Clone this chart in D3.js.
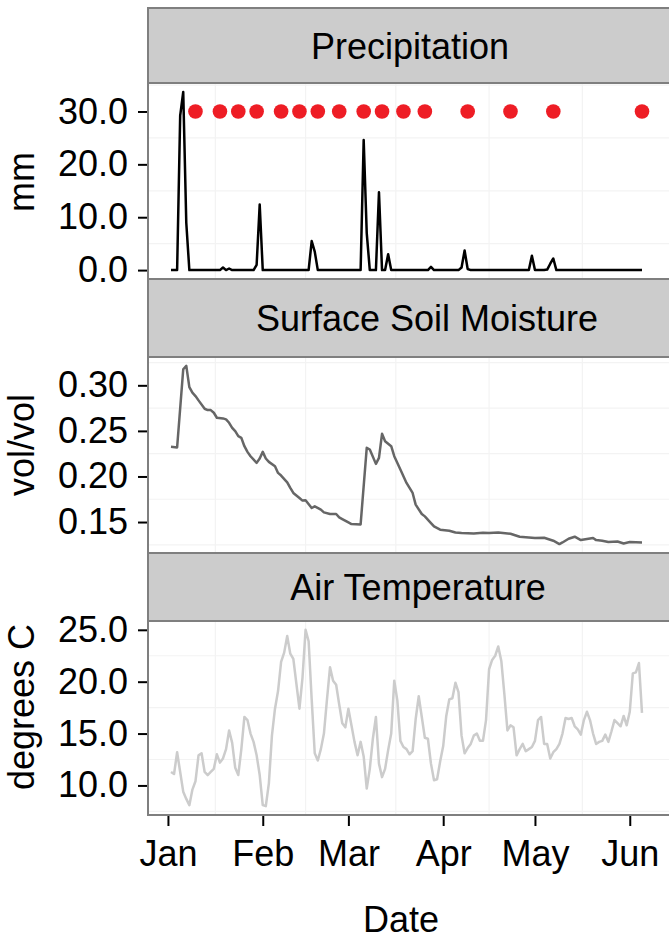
<!DOCTYPE html>
<html lang="en">
<head>
<meta charset="UTF-8">
<script src="https://cdn.jsdelivr.net/npm/d3@7"></script>
<title>Precipitation, soil moisture and air temperature</title>
<style>
    body { margin: 0; background: #fff; }
    svg text { font-family: "Liberation Sans", Arial, sans-serif; fill: #000; }
    .axis path.domain { display: none; }
    .axis .tick line { stroke: #000; stroke-width: 2; }
    .axis .tick text { font-size: 36px; }
</style>
</head>
<body>
<svg id="chart" width="669" height="940"></svg>
<script>
    // daily series start on 2 Jan 2015
    var startDate = new Date(2015, 0, 2);
    var yearStart = new Date(2015, 0, 1);

    // mm per day
    var precip = [
        0, 0, 0, 29.2, 33.7, 8.9, 0, 0, 0, 0,
        0, 0, 0, 0, 0, 0, 0, 0.5, 0, 0.3,
        0, 0, 0, 0, 0, 0, 0, 0, 1.0, 12.4,
        0, 0, 0, 0, 0, 0, 0, 0, 0, 0,
        0, 0, 0, 0, 0, 0, 5.5, 3.5, 0, 0,
        0, 0, 0, 0, 0, 0, 0, 0, 0, 0,
        0, 0, 0, 24.6, 7.0, 0, 0, 0, 14.7, 0,
        0, 3.0, 0, 0, 0, 0, 0, 0, 0, 0,
        0, 0, 0, 0, 0, 0.6, 0, 0, 0, 0,
        0, 0, 0, 0, 0, 0.5, 3.7, 0.2, 0, 0,
        0, 0, 0, 0, 0, 0, 0, 0, 0, 0,
        0, 0, 0, 0, 0, 0, 0, 0, 2.7, 0,
        0, 0, 0, 0.1, 1.2, 2.2, 0, 0, 0, 0,
        0, 0, 0, 0, 0, 0, 0, 0, 0, 0,
        0, 0, 0, 0, 0, 0, 0, 0, 0, 0,
        0, 0, 0, 0, 0
    ];

    // sampling days (days after 1 Jan) shown as red dots at 30 mm
    var sampleDays = [9, 17, 23, 29, 37, 43, 49, 56, 64, 70, 77, 84, 98, 112, 126, 155];
    var sampleLevel = 30;

    // surface soil moisture, vol/vol
    var soilDays = [1, 3, 5, 6, 7, 8, 9, 10, 12, 13, 14, 15, 16, 18, 19, 20, 21, 22, 23, 24,
        25, 26, 27, 29, 30, 31, 32, 33, 35, 36, 37, 39, 40, 41, 43, 44, 45, 47, 48, 50,
        51, 53, 55, 56, 57, 59, 60, 63, 65, 66, 68, 69, 70, 71, 73, 74, 76, 77, 78, 80,
        81, 83, 84, 86, 87, 89, 92, 94, 96, 100, 103, 105, 108, 112, 115, 118, 120, 123, 126, 128,
        129, 131, 133, 135, 137, 139, 140, 142, 144, 147, 149, 151, 155];
    var soilVals = [0.2325, 0.2318, 0.3176, 0.3213, 0.2981, 0.2919, 0.2882, 0.2835, 0.2743, 0.2728,
        0.2728, 0.2699, 0.2644, 0.2637, 0.2626, 0.2589, 0.2534, 0.2497, 0.2442, 0.2424,
        0.2332, 0.2270, 0.2222, 0.2149, 0.2197, 0.2270, 0.2197, 0.2160, 0.2112, 0.2039,
        0.2010, 0.1936, 0.1874, 0.1819, 0.1764, 0.1735, 0.1738, 0.1654, 0.1672, 0.1636,
        0.1606, 0.1588, 0.1588, 0.1551, 0.1533, 0.1496, 0.1478, 0.1474, 0.2314, 0.2296,
        0.2138, 0.2204, 0.2468, 0.2387, 0.2332, 0.2222, 0.2076, 0.2002, 0.1929, 0.1819,
        0.1691, 0.1588, 0.1562, 0.1489, 0.1452, 0.1416, 0.1405, 0.1386, 0.1379, 0.1375,
        0.1383, 0.1379, 0.1386, 0.1372, 0.1339, 0.1331, 0.1324, 0.1328, 0.1295, 0.1258,
        0.1276, 0.1317, 0.1339, 0.1302, 0.1313, 0.1324, 0.1302, 0.1295, 0.1280, 0.1287,
        0.1265, 0.1280, 0.1276];

    // daily mean air temperature, degrees C
    var airTemp = [
        11.3, 11.1, 13.2, 11.3, 9.4, 8.7, 8.1, 9.6, 10.4, 12.9,
        13.1, 11.3, 11.0, 11.3, 11.6, 13.0, 12.2, 12.6, 13.5, 15.3,
        14.1, 11.7, 11.0, 13.5, 16.6, 16.3, 15.0, 14.2, 12.9, 11.0,
        8.1, 8.0, 10.2, 14.8, 17.4, 19.1, 21.9, 22.8, 24.4, 22.7,
        22.2, 19.8, 17.4, 20.4, 25.0, 23.9, 18.3, 13.1, 12.4, 13.5,
        15.0, 18.3, 21.4, 20.1, 19.7, 17.8, 16.0, 15.6, 17.4, 15.8,
        14.2, 12.9, 14.2, 12.8, 9.7, 11.6, 14.5, 16.6, 12.1, 10.8,
        11.6, 13.4, 15.0, 20.1, 18.2, 14.3, 13.7, 13.5, 13.0, 13.3,
        16.4, 18.6, 16.6, 14.6, 14.5, 12.1, 10.5, 10.6, 12.3, 13.8,
        16.7, 18.3, 18.4, 19.9, 19.0, 14.8, 13.1, 13.6, 14.0, 14.8,
        15.0, 14.3, 14.3, 16.3, 21.2, 22.1, 22.5, 23.4, 22.0, 18.8,
        15.3, 15.8, 15.6, 12.9, 13.5, 14.0, 13.3, 13.5, 13.7, 14.3,
        16.3, 16.6, 14.0, 14.0, 12.6, 13.2, 13.5, 14.0, 15.0, 16.5,
        16.4, 16.5, 15.7, 15.4, 14.9, 16.3, 17.1, 16.3, 15.0, 14.0,
        14.2, 14.3, 14.9, 14.2, 15.2, 16.3, 16.0, 15.7, 16.7, 15.8,
        17.1, 20.8, 20.9, 21.8, 17.0
    ];

    var monthTicks = ["2015-01-01", "2015-02-01", "2015-03-01", "2015-04-01", "2015-05-01", "2015-06-01"];

    var parse = d3.timeParse("%Y-%m-%d");
    var dayDate = function (n) { return d3.timeDay.offset(yearStart, n); };
    var daily = function (vals) {
        return vals.map(function (v, i) { return {date: d3.timeDay.offset(startDate, i), value: v}; });
    };

    var precipData = daily(precip);
    var tempData = daily(airTemp);
    var soilData = soilDays.map(function (d, i) { return {date: dayDate(d), value: soilVals[i]}; });
    var sampleData = sampleDays.map(function (d) { return {date: dayDate(d), value: sampleLevel}; });
    var months = monthTicks.map(parse);

    var left = 148, right = 720;
    var x = d3.scaleTime()
        .domain(d3.extent(precipData, function (d) { return d.date; }))
        .range([171, 642]);

    // ggplot style 5% expansion
    function expanded(vals) {
        var e = d3.extent(vals), pad = (e[1] - e[0]) * 0.05;
        return [e[0] - pad, e[1] + pad];
    }

    var panels = [
        {title: "Precipitation", titleX: 410, strip: [8, 83], box: [83, 279], ylab: "mm", ylabY: 182,
            data: precipData, color: "#000", ticks: [0, 10, 20, 30], fmt: ".1f"},
        {title: "Surface Soil Moisture", titleX: 427, strip: [279, 357], box: [357, 553], ylab: "vol/vol", ylabY: 445,
            data: soilData, color: "#666666", ticks: [0.15, 0.20, 0.25, 0.30], fmt: ".2f"},
        {title: "Air Temperature", titleX: 418, strip: [553, 621], box: [621, 815], ylab: "degrees C", ylabY: 707,
            data: tempData, color: "#cccccc", ticks: [10, 15, 20, 25], fmt: ".1f"}
    ];

    var svg = d3.select("#chart");
    var border = "#7f7f7f";

    // minor grid positions: midway between major ticks
    var monthMids = d3.pairs(months).map(function (p) { return new Date((+p[0] + +p[1]) / 2); });

    panels.forEach(function (p, idx) {
        var y = d3.scaleLinear()
            .domain(expanded(p.data.map(function (d) { return d.value; })))
            .range([p.box[1], p.box[0]]);

        var g = svg.append("g");

        g.append("rect")
            .attr("x", left).attr("y", p.box[0])
            .attr("width", right - left).attr("height", p.box[1] - p.box[0])
            .attr("fill", "#fff");

        var step = p.ticks[1] - p.ticks[0];
        var yMinor = [p.ticks[0] - step / 2].concat(p.ticks.map(function (t) { return t + step / 2; }))
            .filter(function (v) { return y(v) > p.box[0] && y(v) < p.box[1]; });

        g.selectAll(".hgrid").data(yMinor).enter().append("line")
            .attr("x1", left).attr("x2", right)
            .attr("y1", function (d) { return y(d); }).attr("y2", function (d) { return y(d); })
            .attr("stroke", "#f3f3f3").attr("stroke-width", 1.2);
        g.selectAll(".vgrid").data(monthMids).enter().append("line")
            .attr("y1", p.box[0]).attr("y2", p.box[1])
            .attr("x1", function (d) { return x(d); }).attr("x2", function (d) { return x(d); })
            .attr("stroke", "#f3f3f3").attr("stroke-width", 1.2);

        var line = d3.line()
            .x(function (d) { return x(d.date); })
            .y(function (d) { return y(d.value); });

        g.append("path")
            .datum(p.data)
            .attr("d", line)
            .attr("fill", "none")
            .attr("stroke", p.color)
            .attr("stroke-width", 2.5)
            .attr("stroke-linejoin", "round");

        if (idx === 0) {
            g.selectAll(".dot").data(sampleData).enter().append("circle")
                .attr("cx", function (d) { return x(d.date); })
                .attr("cy", function (d) { return y(d.value); })
                .attr("r", 7.3)
                .attr("fill", "#ee1d25");
        }

        // panel and strip borders
        g.append("rect")
            .attr("x", left).attr("y", p.box[0])
            .attr("width", right - left).attr("height", p.box[1] - p.box[0])
            .attr("fill", "none").attr("stroke", border).attr("stroke-width", 2);

        g.append("rect")
            .attr("x", left).attr("y", p.strip[0])
            .attr("width", right - left).attr("height", p.strip[1] - p.strip[0])
            .attr("fill", "#cccccc").attr("stroke", border).attr("stroke-width", 2);

        g.append("text")
            .attr("x", p.titleX)
            .attr("y", (p.strip[0] + p.strip[1]) / 2 + 13)
            .attr("text-anchor", "middle")
            .attr("font-size", 36)
            .text(p.title);

        g.append("g")
            .attr("class", "axis")
            .attr("transform", "translate(" + (left - 1) + ",0)")
            .call(d3.axisLeft(y).tickValues(p.ticks).tickFormat(d3.format(p.fmt))
                .tickSize(9).tickPadding(10));

        g.append("text")
            .attr("transform", "translate(34," + p.ylabY + ") rotate(-90)")
            .attr("text-anchor", "middle")
            .attr("font-size", 36)
            .text(p.ylab);

        if (idx === panels.length - 1) {
            g.append("g")
                .attr("class", "axis")
                .attr("transform", "translate(0," + (p.box[1] + 1) + ")")
                .call(d3.axisBottom(x).tickValues(months).tickFormat(d3.timeFormat("%b"))
                    .tickSize(10).tickPadding(14));
        }
    });

    svg.append("text")
        .attr("x", 401)
        .attr("y", 932)
        .attr("text-anchor", "middle")
        .attr("font-size", 36)
        .text("Date");
</script>
</body>
</html>
